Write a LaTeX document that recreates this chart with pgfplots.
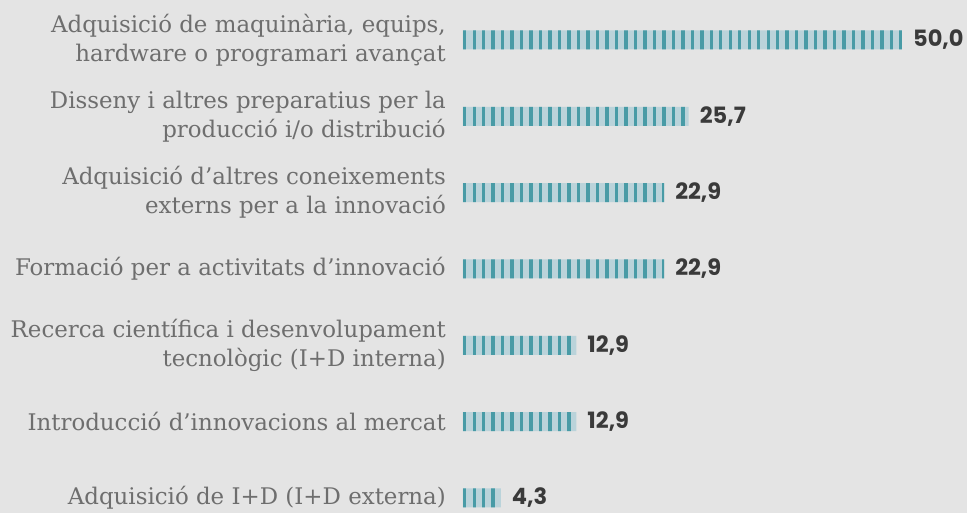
\documentclass[border=0pt]{standalone}
\usepackage{pgfplots}
\pgfplotsset{compat=1.18}
\usepackage{fontspec}
\setmainfont{DejaVu Serif}
\newfontfamily\valfont{Poppins}
\usetikzlibrary{patterns.meta}
\definecolor{bg}{HTML}{E4E4E4}
\definecolor{barlight}{HTML}{BAD3DA}
\definecolor{bardark}{HTML}{489BA6}
\definecolor{labelgray}{HTML}{6E6E6E}
\definecolor{valgray}{HTML}{3A3A3A}
\begin{document}
\begin{tikzpicture}
\useasboundingbox (0,0) rectangle (967pt,513pt);
\fill[bg] (0,0) rectangle (967pt,513pt);
\begin{axis}[
  at={(463pt,0pt)}, anchor=south west,
  scale only axis, width=439pt, height=513pt,
  xmin=0, xmax=50, ymin=-0.524, ymax=6.197, y dir=reverse,
  xbar, bar width=19pt,
  axis line style={draw=none},
  xtick=\empty, ytick={0,...,6}, major tick length=0pt,
  yticklabels={
    {Adquisició de maquinària, equips,\\hardware o programari avançat},
    {Disseny i altres preparatius per la\\producció i/o distribució},
    {Adquisició d’altres coneixements\\externs per a la innovació},
    {Formació per a activitats d’innovació},
    {Recerca científica i desenvolupament\\tecnològic (I+D interna)},
    {Introducció d’innovacions al mercat},
    {Adquisició de I+D (I+D externa)}},
  yticklabel style={align=right, font=\fontsize{22.9}{29}\selectfont, text=labelgray, inner sep=0pt, xshift=-17pt},
  clip=false,
  point meta=x,
  nodes near coords={\pgfmathprintnumber[fixed, fixed zerofill, precision=1, use comma, assume math mode=true]{\pgfplotspointmeta}},
  nodes near coords style={anchor=west, inner sep=0pt, xshift=11pt, font=\valfont\bfseries\fontsize{22.5}{26}\selectfont, text=valgray},
]
\addplot[fill=barlight, draw=none, postaction={pattern={Lines[angle=90,distance=9.484pt,line width=3.4pt]}, pattern color=bardark}]
  coordinates {(50,0) (25.7,1) (22.9,2) (22.9,3) (12.9,4) (12.9,5) (4.3,6)};
\end{axis}
\end{tikzpicture}
\end{document}
